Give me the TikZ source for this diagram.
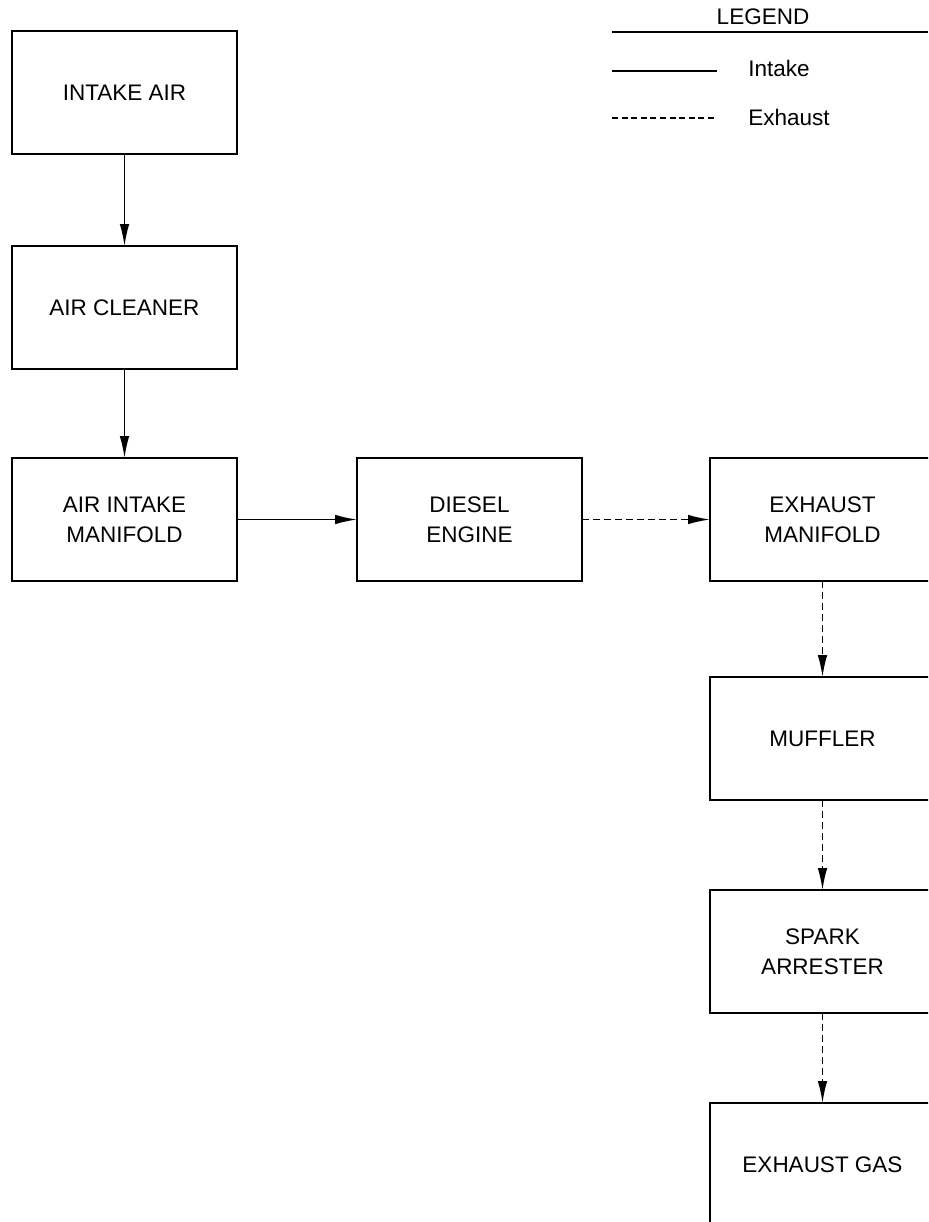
\documentclass[tikz,border=0pt]{standalone}
\usepackage{fontspec}
\setmainfont{Liberation Sans}
\usepackage{tikz}
\usetikzlibrary{arrows.meta,positioning}

\begin{document}
\begin{tikzpicture}[x=0.5pt, y=-0.5pt, node distance=45pt]
% Define styles for boxes, flow lines and legend text
\tikzstyle{block} = [rectangle, draw, line width=0.9pt, minimum width=112.5pt, minimum height=61.5pt, inner sep=0pt, outer sep=0pt, align=center, font=\fontsize{11.25}{15}\selectfont]
\tikzstyle{line} = [draw, line width=0.8pt, -{Latex[length=11pt, width=4.8pt]}]
\tikzstyle{exline} = [line, dash pattern=on 3.5pt off 2pt]
\tikzstyle{legtext} = [inner sep=0pt, font=\fontsize{11.25}{14}\selectfont]

\clip (0,0) rectangle (928,1222);

% Place nodes
\node [block] (intake) at (124.5,92.5) {INTAKE AIR};
\node [block, below=46pt of intake] (cleaner) {AIR CLEANER};
\node [block, below=44.5pt of cleaner] (intakeman) {AIR INTAKE\\MANIFOLD};
\node [block, right=60pt of intakeman] (engine) {DIESEL\\ENGINE};
\node [block, right=64pt of engine] (exhman) {EXHAUST\\MANIFOLD};
\node [block, below=48pt of exhman] (muffler) {MUFFLER};
\node [block, below=45pt of muffler] (arrester) {SPARK\\ARRESTER};
\node [block, below=45pt of arrester] (gas) {EXHAUST GAS};

% Legend
\node [legtext] (legend) at (763,17) {LEGEND};
\draw [line width=0.9pt] (612,32) -- (928,32);
\draw [line width=0.8pt] (612,71) -- (717,71);
\node [legtext, anchor=west] (intakekey) at (748,68) {Intake};
\draw [line width=0.8pt, dash pattern=on 3pt off 1.8pt] (612,118) -- (717,118);
\node [legtext, anchor=west] (exhkey) at (748,117) {Exhaust};

% Connect nodes with arrows
\path [line] (intake) -- (cleaner);
\path [line] (cleaner) -- (intakeman);
\path [line] (intakeman) -- (engine);
\path [exline] (engine) -- (exhman);
\path [exline] (exhman) -- (muffler);
\path [exline] (muffler) -- (arrester);
\path [exline] (arrester) -- (gas);

\end{tikzpicture}
\end{document}
